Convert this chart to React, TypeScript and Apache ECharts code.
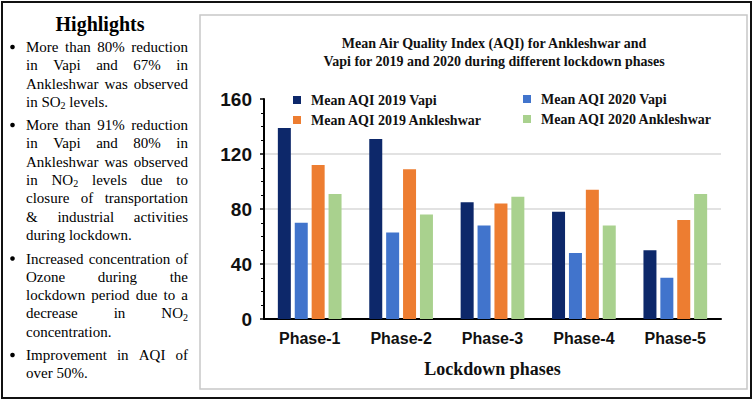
import React, { useEffect, useRef } from "react";
import * as echarts from "echarts";

// ---------- data ----------
const categories = ["Phase-1", "Phase-2", "Phase-3", "Phase-4", "Phase-5"];
const seriesNames = [
  "Mean AQI 2019 Vapi",
  "Mean AQI 2020 Vapi",
  "Mean AQI 2019 Ankleshwar",
  "Mean AQI 2020 Ankleshwar",
];
const aqi2019Vapi = [139, 131, 85, 78, 50];
const aqi2020Vapi = [70, 63, 68, 48, 30];
const aqi2019Ankleshwar = [112, 109, 84, 94, 72];
const aqi2020Ankleshwar = [91, 76, 89, 68, 91];
const yMin = 0;
const yMax = 160;
const yInterval = 40;
const titleText = "Mean Air Quality Index (AQI) for Ankleshwar and\nVapi for 2019 and 2020 during different lockdown phases";
const xAxisName = "Lockdown phases";
const highlightsTitle = "Highlights";
// "_" marks a subscript segment inside a word
const highlights: string[][] = [
  ["More than 80% reduction", "in Vapi and 67% in", "Ankleshwar was observed", "in SO_2 levels."],
  [
    "More than 91% reduction",
    "in Vapi and 80% in",
    "Ankleshwar was observed",
    "in NO_2 levels due to",
    "closure of transportation",
    "& industrial activities",
    "during lockdown.",
  ],
  [
    "Increased concentration of",
    "Ozone during the",
    "lockdown period due to a",
    "decrease in NO_2",
    "concentration.",
  ],
  ["Improvement in AQI of", "over 50%."],
];

// ---------- styles ----------
const SERIF = "'Liberation Serif', 'Times New Roman', serif";
const SANS = "'Liberation Sans', Arial, sans-serif";
const colors = ["#0d286a", "#4174cc", "#ed7d31", "#a9d18e"];

function measure(ctx: CanvasRenderingContext2D, text: string, font: string) {
  ctx.font = font;
  return ctx.measureText(text).width;
}

function buildHighlights(): any[] {
  const els: any[] = [];
  const canvas = document.createElement("canvas");
  const ctx = canvas.getContext("2d") as CanvasRenderingContext2D;
  const size = 15;
  const subSize = 10;
  const font = `${size}px ${SERIF}`;
  const subFont = `${subSize}px ${SERIF}`;
  const L = 26;
  const R = 188;
  const step = 18.3;
  const paraStarts = [47, 125, 258.5, 355];
  const spaceW = measure(ctx, " ", font);

  els.push({
    type: "text",
    x: 100,
    y: 24,
    style: {
      text: highlightsTitle,
      font: `bold 20px ${SERIF}`,
      fill: "#000",
      textAlign: "center",
      textVerticalAlign: "middle",
      verticalAlign: "middle",
    },
  });

  highlights.forEach((para, pi) => {
    const y0 = paraStarts[pi];
    els.push({ type: "circle", shape: { cx: 12.5, cy: y0, r: 2.3 }, style: { fill: "#000" } });
    para.forEach((line, li) => {
      const y = y0 + li * step;
      const words = line.split(" ").map((w) => {
        const segs = w.split("_").map((t, i) => ({
          t,
          sub: i > 0,
          w: measure(ctx, t, i > 0 ? subFont : font),
        }));
        return { segs, w: segs.reduce((a, s) => a + s.w, 0) };
      });
      const total = words.reduce((a, w) => a + w.w, 0);
      const last = li === para.length - 1;
      const gap = !last && words.length > 1 ? (R - L - total) / (words.length - 1) : spaceW;
      let x = L;
      words.forEach((wd) => {
        let sx = x;
        wd.segs.forEach((s) => {
          els.push({
            type: "text",
            x: sx,
            y: s.sub ? y + 4 : y,
            style: {
              text: s.t,
              font: s.sub ? subFont : font,
              fill: "#000",
              textAlign: "left",
              textVerticalAlign: "middle",
              verticalAlign: "middle",
            },
          });
          sx += s.w;
        });
        x += wd.w + gap;
      });
    });
  });
  return els;
}

export default function App() {
  const ref = useRef<HTMLDivElement>(null);
  useEffect(() => {
    if (!ref.current) return;
    const chart = echarts.init(ref.current, undefined, { renderer: "svg" });
    const values = [aqi2019Vapi, aqi2020Vapi, aqi2019Ankleshwar, aqi2020Ankleshwar];
    const legendText = {
      fontFamily: SERIF,
      fontWeight: "bold",
      fontSize: 14,
      color: "#111",
      lineHeight: 16,
      padding: [0, 0, 0, 5],
    };
    const option: any = {
      animation: false,
      backgroundColor: "#fff",
      title: {
        text: titleText,
        left: 494,
        top: 34,
        padding: 0,
        textAlign: "center",
        textStyle: { fontFamily: SERIF, fontWeight: "bold", fontSize: 14, lineHeight: 18, color: "#111" },
      },
      legend: [
        {
          data: [seriesNames[0], seriesNames[2]],
          orient: "vertical",
          left: 287,
          top: 90,
          icon: "rect",
          itemWidth: 8,
          itemHeight: 8,
          itemGap: 4,
          padding: [2, 10, 2, 6],
          textStyle: legendText,
        },
        {
          data: [seriesNames[1], seriesNames[3]],
          orient: "vertical",
          left: 517,
          top: 89,
          icon: "rect",
          itemWidth: 8,
          itemHeight: 8,
          itemGap: 4,
          padding: [2, 10, 2, 6],
          textStyle: legendText,
        },
      ],
      grid: { left: 264, right: 34, top: 99, bottom: 83, containLabel: false },
      xAxis: {
        type: "category",
        data: categories,
        axisLine: { show: true, lineStyle: { color: "#000", width: 2 } },
        axisTick: { show: false },
        axisLabel: { fontFamily: SANS, fontWeight: "bold", fontSize: 16, color: "#111", margin: 11 },
        name: xAxisName,
        nameLocation: "middle",
        nameGap: 41,
        nameTextStyle: { fontFamily: SERIF, fontWeight: "bold", fontSize: 18, color: "#111" },
      },
      yAxis: {
        type: "value",
        min: yMin,
        max: yMax,
        interval: yInterval,
        axisLine: { show: true, lineStyle: { color: "#000", width: 2 } },
        axisTick: { show: true, length: 4, lineStyle: { color: "#000", width: 1.5 } },
        minorTick: { show: true, splitNumber: 4, length: 3, lineStyle: { color: "#000", width: 1 } },
        splitLine: {
          show: true,
          lineStyle: { color: ["#d9d9d9", "#d9d9d9", "#d9d9d9", "#d9d9d9", "rgba(0,0,0,0)"], width: 1.5 },
        },
        axisLabel: { fontFamily: SANS, fontWeight: "bold", fontSize: 19, color: "#111", margin: 12 },
      },
      series: seriesNames.map((name, i) => ({
        name,
        type: "bar",
        data: values[i],
        barWidth: 13,
        barGap: "30%",
        itemStyle: { color: colors[i] },
      })),
      graphic: [
        {
          type: "rect",
          shape: { x: 2, y: 2, width: 749, height: 396 },
          style: { fill: "none", stroke: "#111", lineWidth: 2 },
          silent: true,
        },
        {
          type: "rect",
          shape: { x: 200, y: 15, width: 547, height: 374 },
          style: { fill: "none", stroke: "#c8c8c8", lineWidth: 1.5 },
          silent: true,
        },
        ...buildHighlights(),
      ],
    };
    chart.setOption(option);
    return () => chart.dispose();
  }, []);
  return (
    <div
      ref={ref}
      style={{ position: "absolute", left: 0, top: 0, width: 755, height: 402, background: "#fff" }}
    />
  );
}
